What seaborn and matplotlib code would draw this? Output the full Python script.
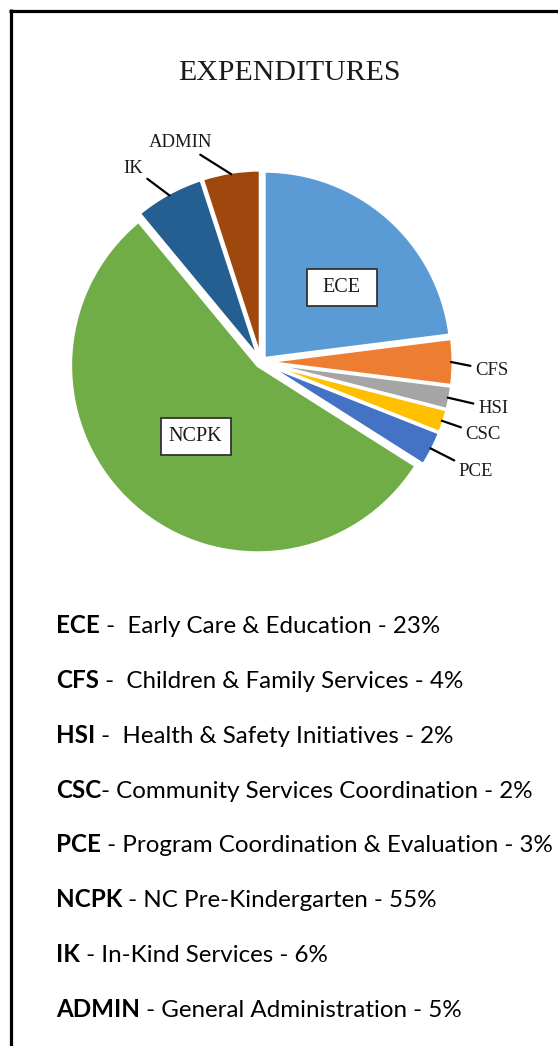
import matplotlib
matplotlib.use('Agg')
import matplotlib.pyplot as plt
import seaborn as sns
import numpy as np
from matplotlib.lines import Line2D
from matplotlib.patches import Rectangle

# ---------------- data ----------------
title = 'EXPENDITURES'
categories = ['ECE', 'CFS', 'HSI', 'CSC', 'PCE', 'NCPK', 'IK', 'ADMIN']
shares = [23, 4, 2, 2, 3, 55, 6, 5]
descriptions = [' -  Early Care & Education - 23%',
                ' -  Children & Family Services - 4%',
                ' -  Health & Safety Initiatives - 2%',
                '- Community Services Coordination - 2%',
                ' - Program Coordination & Evaluation - 3%',
                ' - NC Pre-Kindergarten - 55%',
                ' - In-Kind Services - 6%',
                ' - General Administration - 5%']
colors = ['#5B9BD5', '#ED7D31', '#A5A5A5', '#FFC000', '#4472C4',
          '#70AD47', '#255E91', '#9E480E']

# ---------------- style ----------------
sns.set_theme(style='white')
plt.rcParams['font.family'] = ['Liberation Serif', 'DejaVu Serif']
palette = sns.color_palette(colors)

W, H = 558, 1046
fig = plt.figure(figsize=(W / 100, H / 100), dpi=100)
fig.patch.set_facecolor('white')

# frame (left and top edges visible)
lw_frame = 2.3
fig.add_artist(Line2D([10.5 / W, 10.5 / W], [1 - 9 / H, 0], transform=fig.transFigure,
                      color='black', lw=lw_frame, solid_capstyle='butt'))
fig.add_artist(Line2D([9 / W, 1.0], [1 - 10.5 / H, 1 - 10.5 / H], transform=fig.transFigure,
                      color='black', lw=lw_frame, solid_capstyle='butt'))

# title
fig.text(289 / W, 1 - 73 / H, title, ha='center', va='center', fontsize=21.5,
         family=['Liberation Serif'], color='#1a1a1a')

# ---------------- pie ----------------
cx, cy, R = 261, 362, 192
ax = fig.add_axes([(cx - R) / W, (H - cy - R) / H, 2 * R / W, 2 * R / H])
explode = 0.025
wedges, _ = ax.pie(shares, colors=palette, startangle=90, counterclock=False,
                   explode=[explode] * len(shares), radius=1 - explode,
                   wedgeprops=dict(edgecolor='white', linewidth=2.2))
ax.set_xlim(-1, 1)
ax.set_ylim(-1, 1)
ax.set_aspect('equal')
ax.axis('off')

# boxed labels inside big slices
boxed = {'ECE': (0.42, 0.39), 'NCPK': (-0.34, -0.39)}
bw, bh = 70 / R, 37 / R
for name, (x, y) in boxed.items():
    ax.add_patch(Rectangle((x - bw / 2, y - bh / 2), bw, bh, facecolor='white',
                           edgecolor='#333333', lw=1.3, zorder=5))
    ax.text(x, y, name, ha='center', va='center', fontsize=14.5, color='#1a1a1a',
            zorder=6)

# outside labels with leader lines
outer = {'CFS': ((1.115, -0.042), 'left'),
         'HSI': ((1.13, -0.24), 'left'),
         'CSC': ((1.065, -0.38), 'left'),
         'PCE': ((1.03, -0.57), 'left'),
         'IK': ((-0.615, 1.01), 'right'),
         'ADMIN': ((-0.42, 1.145), 'center')}
for i, name in enumerate(categories):
    if name not in outer:
        continue
    (tx, ty), ha = outer[name]
    w = wedges[i]
    th = np.deg2rad((w.theta1 + w.theta2) / 2)
    px = w.center[0] + w.r * 0.99 * np.cos(th)
    py = w.center[1] + w.r * 0.99 * np.sin(th)
    ax.annotate(name, xy=(px, py), xytext=(tx, ty), ha=ha, va='center',
                fontsize=13.5, color='#1a1a1a', annotation_clip=False,
                arrowprops=dict(arrowstyle='-', color='black', lw=1.6,
                                shrinkA=1, shrinkB=0))

# ---------------- legend text ----------------
leg_font = ['Lato', 'DejaVu Sans']
renderer = fig.canvas.get_renderer()
x0 = 56
baselines = [633, 688, 743, 798, 852, 907, 962, 1017]
fs = 17.4
for name, desc, yb in zip(categories, descriptions, baselines):
    tb = fig.text(x0 / W, 1 - yb / H, name, ha='left', va='baseline', fontsize=fs,
                  fontweight='bold', family=leg_font, color='black')
    wb = tb.get_window_extent(renderer).width
    fig.text((x0 + wb) / W, 1 - yb / H, desc, ha='left', va='baseline', fontsize=fs,
             family=leg_font, color='black')

fig.savefig('out.png', dpi=100, facecolor='white')
